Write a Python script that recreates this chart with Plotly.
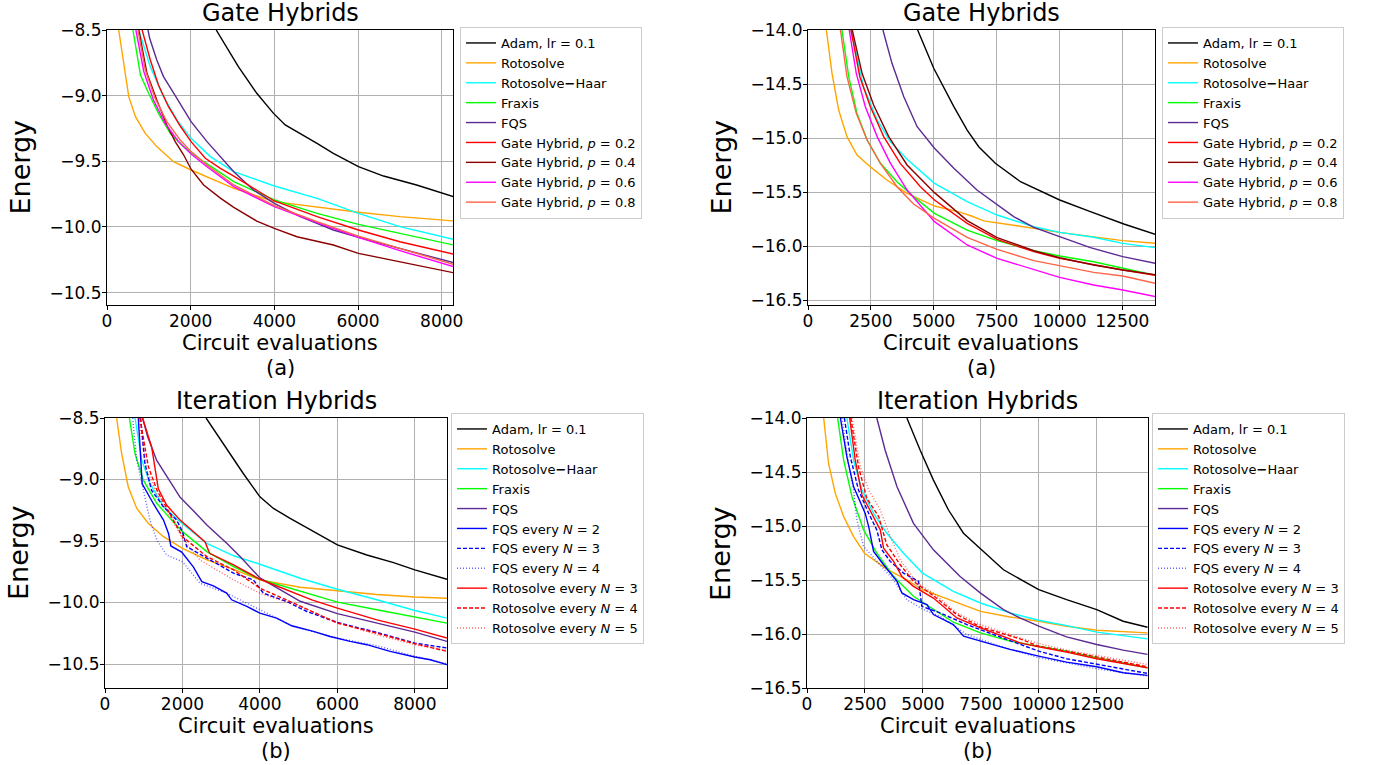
import plotly.graph_objects as go

W, H = 1379, 765
FONT = "DejaVu Sans"

# ---------------- Gate Hybrids (a), small system: (circuit evaluations, energy) ----------------
gs_adam = [(2610, -8.5), (3140, -8.779), (3580, -8.982), (3980, -9.135), (4260, -9.223), (4620, -9.287),
           (5020, -9.363), (5410, -9.439), (6010, -9.541), (6610, -9.612), (7400, -9.680), (8280, -9.769)]
gs_roto = [(280, -8.5), (410, -8.779), (520, -9.008), (680, -9.160), (915, -9.287), (1190, -9.388),
           (1590, -9.503), (2010, -9.566), (2550, -9.642), (3030, -9.706), (4000, -9.807), (5020, -9.850),
           (6010, -9.888), (7000, -9.921), (8280, -9.954)]
gs_haar = [(760, -8.5), (1035, -8.779), (1350, -9.008), (1670, -9.185), (2010, -9.325), (2470, -9.464),
           (3030, -9.579), (4000, -9.688), (5020, -9.782), (6010, -9.896), (7000, -9.997), (8280, -10.094)]
gs_fraxis = [(620, -8.5), (800, -8.843), (995, -8.982), (1230, -9.135), (1510, -9.287), (1830, -9.388),
             (2230, -9.485), (2630, -9.571), (3030, -9.655), (4000, -9.794), (5020, -9.896), (6010, -9.980),
             (7000, -10.048), (8280, -10.137)]
gs_fqs = [(980, -8.5), (1020, -8.563), (1190, -8.728), (1350, -8.855), (1550, -8.957), (1790, -9.084),
          (2010, -9.198), (2390, -9.350), (3030, -9.579), (3500, -9.718), (4000, -9.820), (4620, -9.921),
          (5410, -10.023), (6010, -10.079), (7000, -10.162), (8280, -10.272)]
gs_p02 = [(840, -8.5), (1035, -8.728), (1230, -8.919), (1470, -9.084), (1750, -9.231), (2010, -9.350),
          (2350, -9.477), (2710, -9.553), (3030, -9.612), (3500, -9.706), (4000, -9.802), (5020, -9.921),
          (6010, -10.023), (7000, -10.112), (8280, -10.206)]
gs_p04 = [(760, -8.5), (955, -8.830), (1190, -9.033), (1430, -9.223), (1630, -9.350), (1830, -9.450),
          (2010, -9.560), (2310, -9.680), (2710, -9.780), (3030, -9.850), (3580, -9.955), (4000, -10.010),
          (4540, -10.074), (5410, -10.137), (6010, -10.201), (7000, -10.264), (8280, -10.348)]
gs_p06 = [(690, -8.5), (880, -8.817), (1110, -9.033), (1390, -9.211), (1710, -9.350), (2010, -9.444),
          (2390, -9.541), (3030, -9.693), (4000, -9.845), (5020, -9.967), (6010, -10.079), (7000, -10.180),
          (8280, -10.302)]
gs_p08 = [(740, -8.5), (915, -8.805), (1150, -9.020), (1430, -9.198), (1750, -9.338), (2010, -9.426),
          (2390, -9.528), (3030, -9.680), (4000, -9.838), (5020, -9.959), (6010, -10.069), (7000, -10.162),
          (8280, -10.284)]

# ---------------- Gate Hybrids (a), larger system ----------------
gl_adam = [(4360, -14.0), (5000, -14.354), (5800, -14.709), (6330, -14.925), (6790, -15.079), (7450, -15.233),
           (8450, -15.403), (10010, -15.572), (11230, -15.680), (12560, -15.794), (13820, -15.890)]
gl_roto = [(730, -14.0), (955, -14.401), (1220, -14.740), (1550, -14.986), (1950, -15.156), (2520, -15.273),
           (3140, -15.387), (3940, -15.510), (5030, -15.628), (6060, -15.686), (6500, -15.720), (6990, -15.765),
           (8310, -15.810), (10010, -15.871), (12520, -15.948), (13820, -15.973)]
gl_haar = [(1710, -14.0), (2210, -14.524), (2750, -14.832), (3280, -15.033), (3940, -15.196), (5030, -15.418),
           (6330, -15.588), (7520, -15.711), (8980, -15.819), (10010, -15.871), (11360, -15.917), (12520, -15.973),
           (13820, -16.013)]
gl_fraxis = [(1350, -14.0), (1620, -14.432), (1950, -14.771), (2350, -15.017), (2880, -15.233), (3540, -15.403),
             (4200, -15.541), (5030, -15.695), (6330, -15.850), (7520, -15.948), (8980, -16.041), (10010, -16.090),
             (11360, -16.143), (12520, -16.204), (13820, -16.269)]
gl_fqs = [(2980, -14.0), (3340, -14.308), (3810, -14.617), (4340, -14.894), (5030, -15.094), (5800, -15.279),
          (6720, -15.480), (7520, -15.618), (8180, -15.726), (8980, -15.825), (10010, -15.911), (11230, -16.013),
          (12520, -16.096), (13820, -16.158)]
gl_p02 = [(1710, -14.0), (2060, -14.432), (2480, -14.709), (3010, -14.986), (3670, -15.233), (4470, -15.449),
          (5030, -15.572), (6330, -15.788), (7520, -15.936), (8980, -16.050), (10010, -16.112), (11360, -16.173),
          (12520, -16.219), (13820, -16.269)]
gl_p04 = [(1760, -14.0), (2150, -14.401), (2610, -14.694), (3210, -14.986), (3940, -15.248), (5030, -15.504),
          (6330, -15.763), (7520, -15.920), (8980, -16.041), (10010, -16.106), (11360, -16.173), (12520, -16.219),
          (13820, -16.263)]
gl_p06 = [(1640, -14.0), (1920, -14.401), (2280, -14.709), (2750, -14.986), (3280, -15.233), (3940, -15.480),
          (5030, -15.772), (6330, -15.988), (7520, -16.112), (8980, -16.213), (10010, -16.287), (11360, -16.358),
          (12520, -16.404), (13820, -16.466)]
gl_p08 = [(1290, -14.0), (1550, -14.432), (1920, -14.771), (2350, -15.017), (2880, -15.233), (3540, -15.449),
          (4200, -15.609), (5030, -15.742), (6330, -15.917), (7520, -16.028), (8980, -16.133), (10010, -16.182),
          (11360, -16.241), (12520, -16.275), (13820, -16.343)]

# ---------------- Iteration Hybrids (b), small system ----------------
is_adam = [(2610, -8.5), (3140, -8.749), (3570, -8.951), (4000, -9.141), (4350, -9.235), (4780, -9.316),
           (5380, -9.424), (6000, -9.532), (6760, -9.614), (7450, -9.676), (8000, -9.735), (8830, -9.811)]
is_roto = [(300, -8.5), (430, -8.789), (600, -9.059), (820, -9.235), (1120, -9.357), (1510, -9.465),
           (2000, -9.559), (2630, -9.654), (3320, -9.730), (4000, -9.816), (5040, -9.876), (6000, -9.905),
           (7020, -9.935), (8000, -9.955), (8830, -9.965)]
is_haar = [(775, -8.5), (950, -8.843), (1160, -9.032), (1510, -9.222), (2000, -9.360), (2630, -9.520),
           (3320, -9.620), (4000, -9.689), (5040, -9.803), (6000, -9.892), (7020, -9.978), (8000, -10.065),
           (8830, -10.127)]
is_fraxis = [(630, -8.5), (775, -8.789), (990, -9.005), (1340, -9.195), (1680, -9.316), (2000, -9.424),
             (2630, -9.586), (3320, -9.708), (4000, -9.811), (5040, -9.911), (6000, -9.997), (7020, -10.059),
             (8000, -10.119), (8830, -10.168)]
is_fqs = [(970, -8.5), (1100, -8.650), (1335, -8.845), (1650, -9.000), (1940, -9.145), (2300, -9.260),
          (2630, -9.370), (3150, -9.520), (3500, -9.630), (4000, -9.800), (5040, -9.990), (6000, -10.090),
          (7020, -10.168), (8000, -10.241), (8830, -10.316)]
is_fqs2 = [(860, -8.5), (960, -9.035), (1250, -9.197), (1510, -9.330), (1640, -9.438), (1700, -9.540),
           (1980, -9.590), (2280, -9.710), (2500, -9.830), (2800, -9.865), (3140, -9.924), (3270, -9.978),
           (3660, -10.032), (4000, -10.086), (4430, -10.127), (4820, -10.189), (5380, -10.235), (5810, -10.276),
           (6330, -10.316), (6760, -10.343), (7360, -10.397), (8000, -10.443), (8400, -10.465), (8830, -10.505)]
is_fqs3 = [(920, -8.5), (1030, -8.870), (1200, -9.086), (1510, -9.222), (1850, -9.330), (2000, -9.424),
           (2110, -9.546), (2630, -9.641), (3320, -9.762), (3830, -9.816), (4090, -9.924), (4690, -9.992),
           (5210, -10.073), (6000, -10.162), (7020, -10.243), (8000, -10.330), (8830, -10.370)]
is_fqs4 = [(715, -8.5), (820, -8.843), (990, -9.086), (1160, -9.330), (1340, -9.492), (1590, -9.614),
           (2000, -9.668), (2450, -9.843), (3140, -9.924), (4000, -10.059), (4870, -10.195), (6000, -10.289),
           (7020, -10.351), (8000, -10.438), (8830, -10.497)]
is_roto3 = [(970, -8.5), (1206, -8.738), (1377, -9.076), (1590, -9.208), (1940, -9.330), (2280, -9.424),
            (2584, -9.508), (2700, -9.600), (3320, -9.695), (4000, -9.811), (4690, -9.897), (5340, -9.978),
            (6000, -10.046), (7020, -10.141), (8000, -10.216), (8830, -10.289)]
is_roto4 = [(900, -8.5), (1120, -8.897), (1340, -9.086), (1680, -9.276), (2000, -9.465), (2630, -9.627),
            (3320, -9.735), (4000, -9.884), (4780, -9.992), (6000, -10.168), (7020, -10.249), (8000, -10.335),
            (8830, -10.397)]
is_roto5 = [(870, -8.5), (1080, -8.924), (1340, -9.114), (1680, -9.303), (2000, -9.478), (2450, -9.654),
            (3320, -9.816), (4000, -9.924), (5040, -10.032), (6000, -10.162), (7020, -10.262), (8000, -10.343),
            (8830, -10.389)]

# ---------------- Iteration Hybrids (b), larger system ----------------
il_adam = [(4305, -14.0), (4880, -14.298), (5450, -14.575), (6100, -14.852), (6745, -15.067), (7460, -15.205),
           (8470, -15.405), (9990, -15.590), (11190, -15.682), (12490, -15.774), (13630, -15.882), (14680, -15.937)]
il_roto = [(720, -14.0), (930, -14.421), (1220, -14.698), (1580, -14.913), (2010, -15.098), (2480, -15.252),
           (3440, -15.399), (4300, -15.498), (4980, -15.590), (6310, -15.697), (7480, -15.790), (8750, -15.842),
           (9990, -15.882), (11190, -15.928), (12490, -15.965), (14680, -15.990)]
il_haar = [(1720, -14.0), (2010, -14.391), (2370, -14.667), (2870, -14.883), (3440, -15.067), (4160, -15.252),
           (4980, -15.436), (6310, -15.605), (7480, -15.713), (8750, -15.805), (9990, -15.873), (11190, -15.922),
           (12490, -15.983), (14680, -16.045)]
il_fraxis = [(1320, -14.0), (1580, -14.391), (1940, -14.729), (2440, -15.036), (3010, -15.252), (3730, -15.467),
             (4590, -15.651), (5450, -15.774), (6310, -15.891), (7480, -15.990), (8750, -16.066), (9990, -16.113),
             (11190, -16.159), (12490, -16.220), (14680, -16.312)]
il_fqs = [(3010, -14.0), (3370, -14.298), (3880, -14.637), (4590, -14.975), (5450, -15.221), (6600, -15.467),
          (7480, -15.621), (8470, -15.774), (9180, -15.851), (9990, -15.928), (11190, -16.026), (12490, -16.097),
          (13630, -16.149), (14680, -16.189)]
il_fqs2 = [(1440, -14.0), (1720, -14.360), (2010, -14.637), (2300, -14.775), (2510, -14.883), (2660, -15.006),
           (2870, -15.236), (3300, -15.359), (3880, -15.513), (4090, -15.620), (4590, -15.682), (5170, -15.728),
           (5450, -15.820), (6310, -15.913), (6750, -16.020), (7750, -16.082), (8750, -16.143), (9990, -16.205),
           (11190, -16.260), (12490, -16.303), (13630, -16.359), (14680, -16.383)]
il_fqs3 = [(1610, -14.0), (1870, -14.360), (2220, -14.667), (2660, -14.883), (3010, -15.036), (3230, -15.221),
           (3590, -15.328), (4160, -15.436), (4810, -15.513), (4950, -15.744), (5740, -15.805), (6890, -15.913),
           (8040, -16.005), (9990, -16.159), (11190, -16.229), (12490, -16.282), (14680, -16.365)]
il_fqs4 = [(1510, -14.0), (1790, -14.421), (2010, -14.667), (2150, -14.944), (2440, -15.190), (3010, -15.328),
           (3730, -15.498), (4300, -15.682), (5020, -15.774), (5740, -15.836), (6890, -16.005), (8320, -16.113),
           (9990, -16.220), (11190, -16.266), (12490, -16.322), (14680, -16.389)]
il_roto3 = [(1840, -14.0), (2080, -14.391), (2370, -14.713), (2800, -14.883), (3160, -15.036), (3300, -15.205),
            (3730, -15.328), (4090, -15.467), (4590, -15.559), (5450, -15.667), (6460, -15.851), (7480, -15.943),
            (9180, -16.082), (9990, -16.119), (11190, -16.168), (12490, -16.229), (14680, -16.312)]
il_roto4 = [(1890, -14.0), (2220, -14.452), (2580, -14.744), (3090, -14.913), (3440, -15.175), (4020, -15.359),
            (4590, -15.513), (5450, -15.645), (6460, -15.820), (7480, -15.934), (9180, -16.045), (9990, -16.113),
            (11190, -16.159), (12490, -16.211), (14680, -16.303)]
il_roto5 = [(1940, -14.0), (2300, -14.452), (2660, -14.667), (3160, -14.852), (3590, -15.098), (4020, -15.313),
            (4740, -15.528), (5450, -15.621), (6460, -15.805), (7480, -15.913), (9180, -16.036), (9990, -16.088),
            (11190, -16.149), (12490, -16.199), (14680, -16.282)]

# axis ranges and tick steps per panel
x_ranges = [(0, 8270), (0, 13800), (0, 8830), (0, 14700)]
y_ranges = [(-10.594, -8.5), (-16.543, -14.0), (-10.695, -8.5), (-16.5, -14.0)]
x_steps = [2000, 2500, 2000, 2500]

# plot-area rectangles in pixels: left, right, top, bottom
boxes = [(107, 453, 30, 305), (808, 1155, 30, 305), (105, 447, 418, 688), (807, 1148, 418, 688)]

titles = ["Gate Hybrids", "Gate Hybrids", "Iteration Hybrids", "Iteration Hybrids"]
tags = ["(a)", "(a)", "(b)", "(b)"]

COLORS = {
    "adam": "black", "roto": "#ffa500", "haar": "#00ffff", "fraxis": "#00ff00", "fqs": "#5b2a93",
    "p02": "#ff0000", "p04": "#8b0000", "p06": "#ff00ff", "p08": "#ff6347",
    "blue": "#0000ff", "red": "#ff0000",
}

fig = go.Figure()


def add(points, name, color, panel, dash="solid", opacity=1.0):
    suffix = "" if panel == 0 else str(panel + 1)
    fig.add_trace(go.Scatter(
        x=[p[0] for p in points], y=[p[1] for p in points], mode="lines", name=name,
        line=dict(color=color, width=1.4, dash=dash), opacity=opacity,
        xaxis="x" + suffix, yaxis="y" + suffix, legend="legend" + suffix,
    ))


def add_common(panel, adam, roto, haar, fraxis, fqs):
    add(adam, "Adam, lr = 0.1", COLORS["adam"], panel)
    add(roto, "Rotosolve", COLORS["roto"], panel)
    add(haar, "Rotosolve<b>−</b>Haar", COLORS["haar"], panel)
    add(fraxis, "Fraxis", COLORS["fraxis"], panel)
    add(fqs, "FQS", COLORS["fqs"], panel)


DASHED = "4px,2px"
DOTTED = "1px,2px"

# gate hybrid panels
for panel, series in enumerate([
    (gs_adam, gs_roto, gs_haar, gs_fraxis, gs_fqs, gs_p02, gs_p04, gs_p06, gs_p08),
    (gl_adam, gl_roto, gl_haar, gl_fraxis, gl_fqs, gl_p02, gl_p04, gl_p06, gl_p08),
]):
    add_common(panel, *series[:5])
    for pts, p, key in zip(series[5:], ["0.2", "0.4", "0.6", "0.8"], ["p02", "p04", "p06", "p08"]):
        add(pts, f"Gate Hybrid, <i>p</i> = {p}", COLORS[key], panel)

# iteration hybrid panels
for panel, series in [
    (2, (is_adam, is_roto, is_haar, is_fraxis, is_fqs, is_fqs2, is_fqs3, is_fqs4, is_roto3, is_roto4, is_roto5)),
    (3, (il_adam, il_roto, il_haar, il_fraxis, il_fqs, il_fqs2, il_fqs3, il_fqs4, il_roto3, il_roto4, il_roto5)),
]:
    add_common(panel, *series[:5])
    add(series[5], "FQS every <i>N</i> = 2", COLORS["blue"], panel)
    add(series[6], "FQS every <i>N</i> = 3", COLORS["blue"], panel, dash=DASHED)
    add(series[7], "FQS every <i>N</i> = 4", COLORS["blue"], panel, dash=DOTTED, opacity=0.6)
    add(series[8], "Rotosolve every <i>N</i> = 3", COLORS["red"], panel)
    add(series[9], "Rotosolve every <i>N</i> = 4", COLORS["red"], panel, dash=DASHED)
    add(series[10], "Rotosolve every <i>N</i> = 5", COLORS["red"], panel, dash=DOTTED, opacity=0.6)

axis_common = dict(
    showline=True, mirror=True, linecolor="black", linewidth=1,
    ticks="outside", ticklen=4, tickwidth=1, tickcolor="black",
    showgrid=True, gridcolor="#b0b0b0", gridwidth=1, zeroline=False, automargin=False,
    tickfont=dict(family=FONT, size=17, color="black"), ticklabelstandoff=-3,
)

layout = dict(
    template="none",
    width=W, height=H, autosize=False,
    margin=dict(l=0, r=0, t=0, b=0, pad=0),
    paper_bgcolor="white", plot_bgcolor="white",
    font=dict(family=FONT, color="black"),
    annotations=[],
)

legend_pos = [(460, 27), (1162, 27), (451, 413), (1152, 413)]

for i, (l, r, t, b) in enumerate(boxes):
    suffix = "" if i == 0 else str(i + 1)
    layout["xaxis" + suffix] = dict(
        axis_common, domain=[l / W, r / W], range=list(x_ranges[i]), anchor="y" + suffix,
        tick0=0, dtick=x_steps[i], tickformat="d",
    )
    layout["yaxis" + suffix] = dict(
        axis_common, domain=[1 - b / H, 1 - t / H], range=list(y_ranges[i]), anchor="x" + suffix,
        tick0=-8.5, dtick=0.5, tickformat=".1f",
    )
    lx, ly = legend_pos[i]
    layout["legend" + suffix] = dict(
        x=lx / W, y=1 - ly / H, xanchor="left", yanchor="top",
        bgcolor="rgba(255,255,255,0.85)", bordercolor="#cccccc", borderwidth=1,
        font=dict(family=FONT, size=13, color="black"), tracegroupgap=0, itemwidth=30,
    )
    cx = (l + r) / 2 / W
    layout["annotations"] += [
        dict(text=titles[i], x=cx, y=1 - (t - 17) / H, xref="paper", yref="paper",
             showarrow=False, font=dict(family=FONT, size=24, color="black"),
             xanchor="center", yanchor="middle"),
        dict(text="Circuit evaluations", x=cx, y=1 - (b + 38) / H, xref="paper", yref="paper",
             showarrow=False, font=dict(family=FONT, size=21, color="black"),
             xanchor="center", yanchor="middle"),
        dict(text=tags[i], x=cx, y=1 - (b + 63) / H, xref="paper", yref="paper",
             showarrow=False, font=dict(family=FONT, size=21, color="black"),
             xanchor="center", yanchor="middle"),
        dict(text="Energy", x=(l - 87) / W, y=1 - (t + b) / 2 / H, xref="paper", yref="paper",
             showarrow=False, textangle=-90, font=dict(family=FONT, size=27, color="black"),
             xanchor="center", yanchor="middle"),
    ]

fig.update_layout(**layout)
fig.write_html("out.html")
